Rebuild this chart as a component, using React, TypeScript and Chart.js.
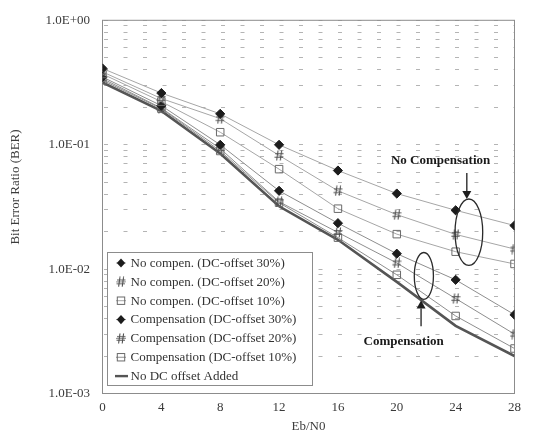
import React, { useEffect, useRef } from "react";
import { Chart, registerables } from "chart.js";

Chart.register(...registerables);

// ---------- data ----------
const ebN0 = [0, 4, 8, 12, 16, 20, 24, 28];
const noComp30 = [0.41, 0.26, 0.177, 0.0998, 0.062, 0.0405, 0.0297, 0.0224];
const noComp20 = [0.385, 0.235, 0.162, 0.082, 0.0426, 0.0274, 0.019, 0.0145];
const noComp10 = [0.37, 0.222, 0.126, 0.0636, 0.0306, 0.0191, 0.0138, 0.011];
const comp30 = [0.35, 0.206, 0.0998, 0.0426, 0.0234, 0.0133, 0.0082, 0.0043];
const comp20 = [0.34, 0.197, 0.093, 0.0348, 0.0197, 0.0112, 0.0058, 0.003];
const comp10 = [0.33, 0.195, 0.089, 0.0342, 0.0179, 0.009, 0.0042, 0.0023];
const noDcOffset = [0.316, 0.187, 0.085, 0.032, 0.0172, 0.0079, 0.0035, 0.002];

const seriesLabels = [
  "No compen. (DC-offset 30%)",
  "No compen. (DC-offset 20%)",
  "No compen. (DC-offset 10%)",
  "Compensation (DC-offset 30%)",
  "Compensation (DC-offset 20%)",
  "Compensation (DC-offset 10%)",
  "No DC offset Added",
];
const xTicks = [0, 4, 8, 12, 16, 20, 24, 28];
const yDecades = [-3, -2, -1];
const xTitle = "Eb/N0";
const yTitle = "Bit Error Ratio (BER)";

// annotation positions in data units
const noCompNote = { text: "No Compensation", x: 22.98, y: 0.0739 };
const noCompArrow = { x: 24.76, from: 0.0591, to: 0.0366 };
const noCompEllipse = { x: 24.9, rx: 0.94, top: 0.0366, bottom: 0.0107 };
const compNote = { text: "Compensation", x: 20.47, y: 0.00262 };
const compArrow = { x: 21.65, from: 0.00347, to: 0.0056 };
const compEllipse = { x: 21.84, rx: 0.65, top: 0.0136, bottom: 0.0057 };

const SERIF = '"Liberation Serif", "Times New Roman", serif';

function makeHash(): HTMLCanvasElement {
  const c = document.createElement("canvas");
  c.width = 10;
  c.height = 11;
  const g = c.getContext("2d")!;
  g.strokeStyle = "#505050";
  g.lineWidth = 1.1;
  g.beginPath();
  g.moveTo(4, 0.5);
  g.lineTo(2.6, 10.5);
  g.moveTo(7.6, 0.5);
  g.lineTo(6.2, 10.5);
  g.moveTo(1, 3.8);
  g.lineTo(9.5, 3.8);
  g.moveTo(0.5, 7.3);
  g.lineTo(9, 7.3);
  g.stroke();
  return c;
}

function pts(values: number[]) {
  return values.map((v, i) => ({ x: ebN0[i], y: v }));
}

export default function App() {
  const ref = useRef<HTMLCanvasElement>(null);

  useEffect(() => {
    const canvas = ref.current!;
    const hash = makeHash();

    const diamond = (color: string) => ({
      pointStyle: "rectRot" as const,
      pointRadius: 4.6,
      pointBackgroundColor: color,
      pointBorderColor: color,
      pointBorderWidth: 1,
    });
    const hashPt = {
      pointStyle: hash as any,
      pointRadius: 5,
    };
    const square = {
      pointStyle: "rect" as const,
      pointRadius: 5.3,
      pointBackgroundColor: "rgba(255,255,255,0)",
      pointBorderColor: "#6a6a6a",
      pointBorderWidth: 1,
    };

    const lineNC = "#a6a6a6";
    const lineC = "#8e8e8e";

    const datasets: any[] = [
      { label: seriesLabels[0], data: pts(noComp30), borderColor: lineNC, borderWidth: 1, ...diamond("#1c1c1c") },
      { label: seriesLabels[1], data: pts(noComp20), borderColor: lineNC, borderWidth: 1, ...hashPt },
      { label: seriesLabels[2], data: pts(noComp10), borderColor: lineNC, borderWidth: 1, ...square },
      { label: seriesLabels[3], data: pts(comp30), borderColor: lineC, borderWidth: 1, ...diamond("#1c1c1c") },
      { label: seriesLabels[4], data: pts(comp20), borderColor: lineC, borderWidth: 1, ...hashPt },
      { label: seriesLabels[5], data: pts(comp10), borderColor: lineC, borderWidth: 1, ...square },
      { label: seriesLabels[6], data: pts(noDcOffset), borderColor: "#555555", borderWidth: 2.6, pointRadius: 0 },
    ];

    const framePlugin = {
      id: "frame",
      beforeDatasetsDraw(chart: any) {
        const { ctx, chartArea: a } = chart;
        ctx.save();
        ctx.strokeStyle = "#8c8c8c";
        ctx.lineWidth = 1;
        ctx.strokeRect(a.left, a.top, a.right - a.left, a.bottom - a.top);
        ctx.restore();
      },
    };

    const titlesPlugin = {
      id: "titles",
      afterDraw(chart: any) {
        const { ctx, chartArea: a } = chart;
        ctx.save();
        ctx.fillStyle = "#3c3c3c";
        ctx.font = `13px ${SERIF}`;
        ctx.textAlign = "center";
        ctx.textBaseline = "middle";
        ctx.fillText(xTitle, (a.left + a.right) / 2, 427);
        ctx.translate(16, 187);
        ctx.rotate(-Math.PI / 2);
        ctx.fillText(yTitle, 0, 0);
        ctx.restore();
      },
    };

    const annotationPlugin = {
      id: "notes",
      afterDatasetsDraw(chart: any) {
        const { ctx } = chart;
        const xs = chart.scales.x;
        const ys = chart.scales.y;
        ctx.save();
        // ellipses
        const drawEllipse = (e: any) => {
          const cx = xs.getPixelForValue(e.x);
          const rx = xs.getPixelForValue(e.x + e.rx) - cx;
          const t = ys.getPixelForValue(e.top);
          const b = ys.getPixelForValue(e.bottom);
          ctx.beginPath();
          ctx.ellipse(cx, (t + b) / 2, rx, (b - t) / 2, 0, 0, Math.PI * 2);
          ctx.strokeStyle = "#2a2a2a";
          ctx.lineWidth = 1.3;
          ctx.stroke();
        };
        drawEllipse(noCompEllipse);
        drawEllipse(compEllipse);
        // arrows
        const drawArrow = (ar: any) => {
          const x = xs.getPixelForValue(ar.x);
          const y0 = ys.getPixelForValue(ar.from);
          const y1 = ys.getPixelForValue(ar.to);
          const dir = y1 > y0 ? 1 : -1;
          const head = 8;
          ctx.strokeStyle = "#1e1e1e";
          ctx.lineWidth = 1.3;
          ctx.beginPath();
          ctx.moveTo(x, y0);
          ctx.lineTo(x, y1 - dir * head);
          ctx.stroke();
          ctx.fillStyle = "#1e1e1e";
          ctx.beginPath();
          ctx.moveTo(x, y1);
          ctx.lineTo(x - 4.5, y1 - dir * head);
          ctx.lineTo(x + 4.5, y1 - dir * head);
          ctx.closePath();
          ctx.fill();
        };
        drawArrow(noCompArrow);
        drawArrow(compArrow);
        // texts
        ctx.fillStyle = "#1a1a1a";
        ctx.font = `bold 13px ${SERIF}`;
        ctx.textAlign = "center";
        ctx.textBaseline = "middle";
        for (const n of [noCompNote, compNote]) {
          ctx.fillText(n.text, xs.getPixelForValue(n.x), ys.getPixelForValue(n.y));
        }
        ctx.restore();
      },
    };

    const legendPlugin = {
      id: "boxLegend",
      afterDraw(chart: any) {
        const { ctx } = chart;
        const left = 107.5, top = 252.5, right = 312.5, bottom = 385.5;
        const rowStart = 263, rowStep = 18.85;
        ctx.save();
        ctx.fillStyle = "#ffffff";
        ctx.fillRect(left, top, right - left, bottom - top);
        ctx.strokeStyle = "#8c8c8c";
        ctx.lineWidth = 1;
        ctx.strokeRect(left, top, right - left, bottom - top);
        ctx.font = `13px ${SERIF}`;
        ctx.textBaseline = "middle";
        ctx.textAlign = "left";
        const mx = 121;
        datasets.forEach((ds, i) => {
          const y = rowStart + i * rowStep;
          if (i === 6) {
            ctx.strokeStyle = "#555555";
            ctx.lineWidth = 2.4;
            ctx.beginPath();
            ctx.moveTo(115, y);
            ctx.lineTo(128, y);
            ctx.stroke();
          } else {
            ctx.strokeStyle = ds.borderColor;
            ctx.lineWidth = 1;
            ctx.beginPath();
            ctx.moveTo(116, y);
            ctx.lineTo(126, y);
            ctx.stroke();
            if (ds.pointStyle === "rectRot") {
              ctx.fillStyle = ds.pointBackgroundColor;
              ctx.beginPath();
              ctx.moveTo(mx, y - 4.6);
              ctx.lineTo(mx + 4.2, y);
              ctx.lineTo(mx, y + 4.6);
              ctx.lineTo(mx - 4.2, y);
              ctx.closePath();
              ctx.fill();
            } else if (ds.pointStyle === "rect") {
              ctx.strokeStyle = ds.pointBorderColor;
              ctx.strokeRect(mx - 3.7, y - 3.7, 7.4, 7.4);
            } else {
              ctx.drawImage(hash, mx - 5, y - 5.5);
            }
          }
          ctx.fillStyle = "#333333";
          ctx.fillText(ds.label, 130.5, y + 0.5);
        });
        ctx.restore();
      },
    };

    const chart = new Chart(canvas, {
      type: "line",
      data: { datasets },
      options: {
        animation: false,
        responsive: false,
        maintainAspectRatio: false,
        layout: { padding: { left: 0, right: 19.5, top: 9.5, bottom: 0 } },
        elements: { line: { tension: 0 } },
        plugins: {
          legend: { display: false },
          tooltip: { enabled: false },
          title: { display: false },
        },
        scales: {
          x: {
            type: "linear",
            min: 0,
            max: 28,
            afterBuildTicks: (s: any) => {
              s.ticks = xTicks.map((v) => ({ value: v }));
            },
            afterFit: (s: any) => {
              s.height = 42.5;
            },
            ticks: {
              autoSkip: false,
              padding: 6,
              color: "#3a3a3a",
              font: { family: SERIF, size: 13 },
              callback: (v: any) => String(v),
            },
            grid: { display: false, drawTicks: false },
            border: { display: false },
          },
          y: {
            type: "logarithmic",
            min: 0.001,
            max: 1,
            afterBuildTicks: (s: any) => {
              const t: any[] = [];
              for (const d of yDecades) {
                for (let m = 1; m <= 9; m++) t.push({ value: m * Math.pow(10, d) });
              }
              t.push({ value: 1 });
              s.ticks = t;
            },
            afterFit: (s: any) => {
              s.width = 102.5;
            },
            ticks: {
              autoSkip: false,
              padding: 12.5,
              color: "#3a3a3a",
              font: { family: SERIF, size: 13 },
              callback: (v: any) => {
                const e = Math.round(Math.log10(v));
                if (Math.abs(v - Math.pow(10, e)) > 1e-12) return "";
                const a = Math.abs(e);
                return "1.0E" + (e >= 0 ? "+" : "-") + (a < 10 ? "0" : "") + a;
              },
            },
            grid: { display: true, drawTicks: false, color: "#b4b4b4", lineWidth: 1 },
            border: { display: false, dash: [4, 15.5], dashOffset: -1 },
          },
        },
      },
      plugins: [framePlugin, annotationPlugin, titlesPlugin, legendPlugin],
    } as any);

    return () => chart.destroy();
  }, []);

  return (
    <div style={{ position: "absolute", left: 0, top: 0, width: 534, height: 436, background: "#ffffff" }}>
      <canvas ref={ref} width={534} height={436} style={{ display: "block" }} />
    </div>
  );
}
